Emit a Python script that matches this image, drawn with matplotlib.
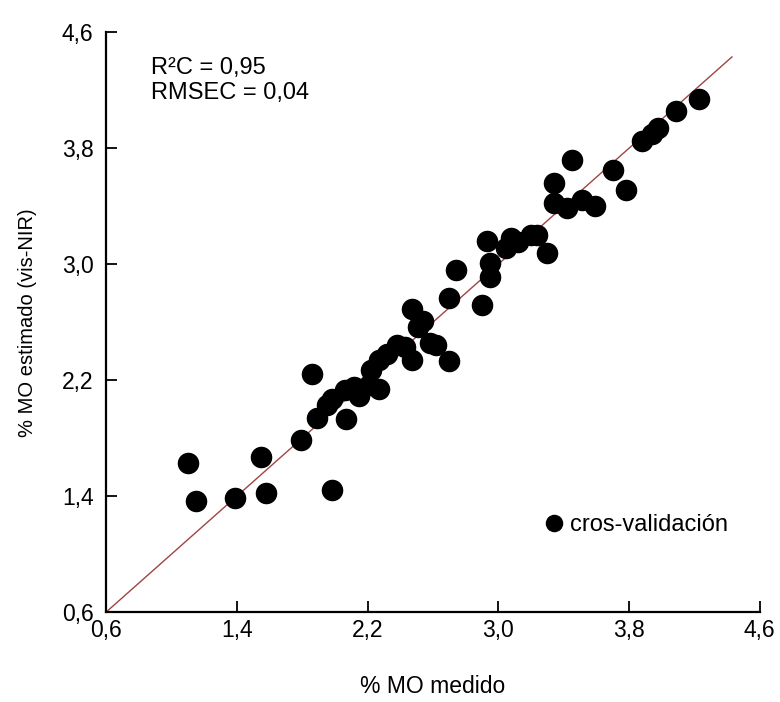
import numpy as np
import matplotlib
matplotlib.use("Agg")
import matplotlib.pyplot as plt
from matplotlib.ticker import FuncFormatter

plt.rcParams['font.family'] = ['Liberation Sans', 'DejaVu Sans']

# % MO medido vs % MO estimado (vis-NIR), cros-validacion
medido = [1.10, 1.15, 1.39, 1.55, 1.58, 1.79, 1.86, 1.98, 1.89, 1.95,
          1.98, 2.07, 2.06, 2.12, 2.15, 2.21, 2.27, 2.22, 2.27, 2.32,
          2.38, 2.43, 2.47, 2.51, 2.58, 2.62, 2.70, 2.47, 2.54, 2.70,
          2.74, 2.90, 2.95, 2.95, 2.93, 3.05, 3.08, 3.12, 3.20, 3.24,
          3.30, 3.34, 3.42, 3.51, 3.59, 3.34, 3.45, 3.70, 3.78, 3.88,
          3.94, 3.98, 4.09, 4.23]
estimado = [1.63, 1.37, 1.39, 1.67, 1.42, 1.79, 2.24, 1.44, 1.94, 2.03,
            2.07, 1.93, 2.13, 2.15, 2.09, 2.17, 2.14, 2.27, 2.34, 2.38,
            2.44, 2.43, 2.34, 2.57, 2.46, 2.44, 2.33, 2.69, 2.61, 2.77,
            2.96, 2.72, 3.01, 2.91, 3.16, 3.11, 3.18, 3.15, 3.20, 3.20,
            3.08, 3.42, 3.39, 3.44, 3.40, 3.56, 3.72, 3.65, 3.51, 3.85,
            3.90, 3.94, 4.06, 4.14]
linea_11 = [0.6, 4.43]
ticks = [0.6, 1.4, 2.2, 3.0, 3.8, 4.6]

fig = plt.figure(figsize=(7.8, 7.02), dpi=100)
ax = fig.add_axes([0.136, 0.128, 0.838, 0.826])

ax.plot(linea_11, linea_11, color='#a04444', lw=1.0, zorder=1)
ax.plot(medido, estimado, 'o', color='black', ms=14.5, mec='black',
        label='cros-validación', zorder=2)

ax.set_xlim(0.6, 4.6)
ax.set_ylim(0.6, 4.6)
ax.set_xticks(ticks)
ax.set_yticks(ticks)
fmt = FuncFormatter(lambda v, p: f"{v:.1f}".replace('.', ','))
ax.xaxis.set_major_formatter(fmt)
ax.yaxis.set_major_formatter(fmt)
ax.tick_params(direction='in', length=8, width=1.3, labelsize=16.5,
               colors='black')
ax.tick_params(axis='x', pad=5)
ax.tick_params(axis='y', pad=9)

for s in ['top', 'right']:
    ax.spines[s].set_visible(False)
for s in ['left', 'bottom']:
    ax.spines[s].set_linewidth(1.6)

ax.set_xlabel('% MO medido', fontsize=16.5, labelpad=24)
ax.set_ylabel('% MO estimado (vis-NIR)', fontsize=14.5, labelpad=18)

ax.text(0.068, 0.958, 'R²C = 0,95\nRMSEC = 0,04', transform=ax.transAxes,
        fontsize=17, va='top', ha='left', linespacing=1.2)

ax.legend(loc='center left', bbox_to_anchor=(0.635, 0.15), frameon=False,
          fontsize=17, markerscale=0.8, handletextpad=0.15,
          handlelength=1.0)

fig.savefig('out.png', dpi=100)
